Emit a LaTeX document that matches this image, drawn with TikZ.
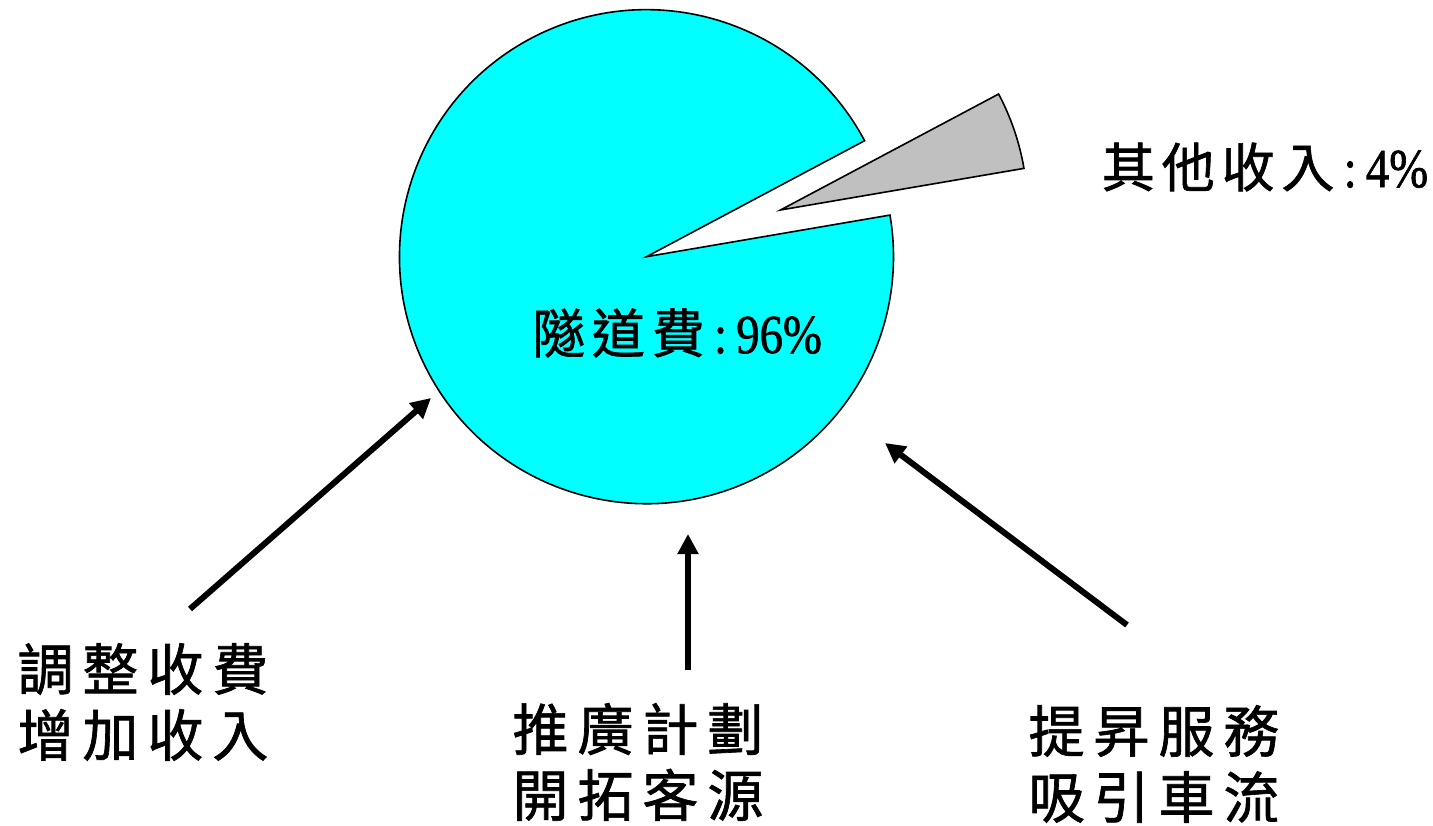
\documentclass[tikz,border=0pt]{standalone}
\usepackage{fontspec}
\usetikzlibrary{arrows.meta}
\newfontfamily\cjk[LetterSpace=16,FakeBold=1.2]{Noto Sans CJK TC}
\newfontfamily\cjkpie[LetterSpace=13,FakeBold=1.2]{Noto Sans CJK TC}
\newfontfamily\lat[FakeStretch=0.85,FakeBold=1.2]{Liberation Serif}
\definecolor{piecyan}{RGB}{0,255,255}
\definecolor{piegray}{RGB}{192,192,192}
\begin{document}
\begin{tikzpicture}[x=0.5pt,y=0.5pt,
  slice/.style={draw=black,line width=0.8pt,line join=miter},
  lbl/.style={font=\cjk\fontsize{28}{33}\selectfont,align=center,inner sep=0pt},
  pielbl/.style={font=\cjkpie\fontsize{26.5}{30}\selectfont,inner sep=0pt},
  bigarrow/.style={line width=3pt,-{Triangle[length=10pt,width=10pt]}}]
\useasboundingbox (0,0) rectangle (1433,825);
% main slice
\coordinate (C) at (646.5,568.3);
\draw[slice,fill=piecyan] (C) -- ++(28:247) arc[start angle=28,end angle=369.7,radius=247] -- cycle;
% exploded slice
\coordinate (G) at (780.5,615);
\draw[slice,fill=piegray] (G) -- ++(9.7:247) arc[start angle=9.7,end angle=28,radius=247] -- cycle;
% labels
\node[pielbl] (main) at (677,492) {隧道費{\lat\fontsize{27.5}{30}\selectfont\,:\,96\%}};
\node[pielbl] (other) at (1265,658) {其他收入{\lat\fontsize{27.5}{30}\selectfont\,:\,4\%}};
\node[lbl] (l1) at (143,123) {調整收費\\增加收入};
\node[lbl] (l2) at (638,63) {推廣計劃\\開拓客源};
\node[lbl] (l3) at (1154,61) {提昇服務\\吸引車流};
% arrows
\coordinate (a1s) at (190,216);
\coordinate (a1e) at (431,427);
\coordinate (a2s) at (688,155);
\coordinate (a2e) at (688,291);
\coordinate (a3s) at (1127,200);
\coordinate (a3e) at (885,382);
\draw[bigarrow] (a1s) -- (a1e);
\draw[bigarrow] (a2s) -- (a2e);
\draw[bigarrow] (a3s) -- (a3e);
\end{tikzpicture}
\end{document}
